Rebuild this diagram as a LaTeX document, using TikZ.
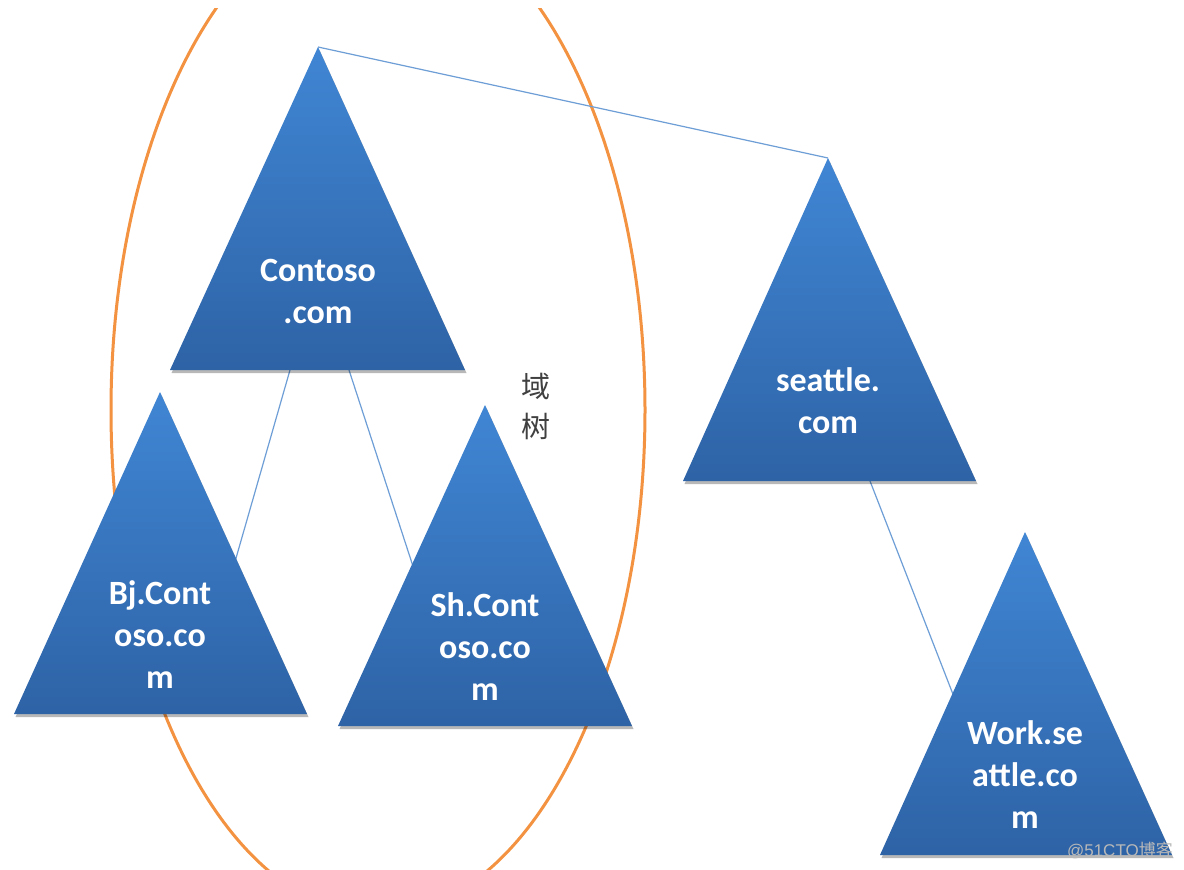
\documentclass[tikz,border=0pt]{standalone}
\usepackage{fontspec}
\setmainfont{Carlito}
\newfontfamily\cjk{Noto Sans CJK SC}
\newfontfamily\wmfont{Liberation Sans}
\definecolor{triTop}{RGB}{64,134,212}
\definecolor{triBot}{RGB}{46,99,166}
\definecolor{connBlue}{RGB}{110,158,214}
\definecolor{ringOrange}{RGB}{243,146,64}
\begin{document}
\begin{tikzpicture}[x=1pt,y=-1pt,
  tri/.style={top color=triTop, bottom color=triBot, draw=none},
  trishadow/.style={fill=black, opacity=0.28, shift={(1.5,3)}},
  lbl/.style={text=white, anchor=base, inner sep=0pt, font=\fontsize{34}{42}\selectfont\bfseries},
  conn/.style={draw=connBlue, line width=1.2},
  ring/.style={draw=ringOrange, line width=3}]
\useasboundingbox (0,0) rectangle (1184,870);
\fill[white] (0,0) rectangle (1184,870);

% coordinates
\coordinate (cApex) at (318,47);
\coordinate (sApex) at (828,158);
\coordinate (cBL) at (290,370);
\coordinate (cBR) at (349,370);
\coordinate (bjIn) at (224,600);
\coordinate (shIn) at (424,600);
\coordinate (sB) at (870,481);
\coordinate (wIn) at (963,720);

% ring (behind)
\begin{scope}
\clip (0,8) rectangle (1184,870);
\draw[ring] (378,410) ellipse [x radius=267, y radius=505];
\end{scope}

% connectors (behind)
\draw[conn] (cApex) -- (sApex);
\draw[conn] (cBL) -- (bjIn);
\draw[conn] (cBR) -- (shIn);
\draw[conn] (sB) -- (wIn);

% triangles
\fill[trishadow] (318,47) -- (465,370) -- (170,370) -- cycle;
\shade[tri] (318,47) -- (465,370) -- (170,370) -- cycle;
\fill[trishadow] (828,158) -- (976,481) -- (683,481) -- cycle;
\shade[tri] (828,158) -- (976,481) -- (683,481) -- cycle;
\fill[trishadow] (160,392) -- (307,714) -- (14,714) -- cycle;
\shade[tri] (160,392) -- (307,714) -- (14,714) -- cycle;
\fill[trishadow] (485,405) -- (632,726) -- (338,726) -- cycle;
\shade[tri] (485,405) -- (632,726) -- (338,726) -- cycle;
\fill[trishadow] (1025,532) -- (1172,855) -- (880,855) -- cycle;
\shade[tri] (1025,532) -- (1172,855) -- (880,855) -- cycle;

% labels
\node[lbl] (c1) at (318,281) {Contoso};
\node[lbl] (c2) at (318,323) {.com};
\node[lbl] (s1) at (828,391) {seattle.};
\node[lbl] (s2) at (828,433) {com};
\node[lbl] (b1) at (160,604) {Bj.Cont};
\node[lbl] (b2) at (160,646) {oso.co};
\node[lbl] (b3) at (160,688) {m};
\node[lbl] (h1) at (485,616) {Sh.Cont};
\node[lbl] (h2) at (485,658) {oso.co};
\node[lbl] (h3) at (485,700) {m};
\node[lbl] (w1) at (1025,744) {Work.se};
\node[lbl] (w2) at (1025,786) {attle.co};
\node[lbl] (w3) at (1025,828) {m};

\node[font=\cjk\fontsize{29}{29}\selectfont, text=black!75] (y1) at (536,386) {域};
\node[font=\cjk\fontsize{29}{29}\selectfont, text=black!75] (y2) at (536,426) {树};

\node[font=\wmfont\fontsize{17}{17}\selectfont, text=black!28, anchor=east, inner sep=0pt] (wm) at (1173,850) {@51CTO\cjk 博客};
\end{tikzpicture}
\end{document}
